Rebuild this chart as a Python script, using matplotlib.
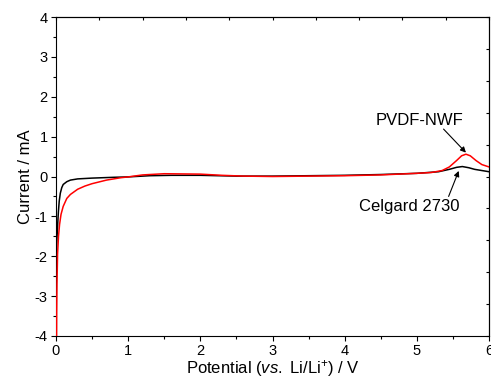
import matplotlib.pyplot as plt
import numpy as np

plt.rcParams['font.family'] = ['Liberation Sans', 'DejaVu Sans']
plt.rcParams['axes.unicode_minus'] = False
plt.rcParams['mathtext.fontset'] = 'custom'
plt.rcParams['mathtext.rm'] = 'Liberation Sans'
plt.rcParams['mathtext.it'] = 'Liberation Sans:italic'

# Celgard 2730 (black)
celgard_v = [0.002, 0.005, 0.01, 0.018, 0.025, 0.033, 0.045, 0.06, 0.08, 0.1, 0.15,
             0.2, 0.3, 0.5, 0.8, 1.0, 1.3, 1.6, 2.0, 2.5, 3.0, 3.5, 4.0, 4.5,
             5.0, 5.3, 5.45, 5.55, 5.63, 5.72, 5.8, 5.9, 6.0]
celgard_i = [-2.4, -2.0, -1.7, -1.4, -1.15, -0.9, -0.62, -0.42, -0.28, -0.2, -0.13,
             -0.09, -0.06, -0.04, -0.02, -0.01, 0.02, 0.03, 0.03, 0.01, 0.01, 0.02, 0.03, 0.05,
             0.08, 0.12, 0.18, 0.23, 0.25, 0.22, 0.18, 0.15, 0.12]

# PVDF-NWF (red)
pvdf_v = [0.008, 0.01, 0.014, 0.022, 0.035, 0.05, 0.07, 0.1, 0.15, 0.2, 0.3, 0.4,
          0.5, 0.7, 0.9, 1.0, 1.2, 1.5, 2.0, 2.3, 2.6, 3.0, 3.5, 4.0, 4.5, 5.0,
          5.2, 5.35, 5.45, 5.55, 5.62, 5.68, 5.74, 5.82, 5.9, 6.0]
pvdf_i = [-4.2, -3.4, -2.7, -1.95, -1.5, -1.2, -0.95, -0.75, -0.55, -0.45, -0.32, -0.24,
          -0.18, -0.09, -0.03, -0.01, 0.04, 0.07, 0.06, 0.03, 0.01, 0.0, 0.01, 0.02, 0.04, 0.08,
          0.1, 0.15, 0.24, 0.4, 0.52, 0.56, 0.52, 0.4, 0.3, 0.24]

fig = plt.figure(figsize=(4.91, 3.8), dpi=100)
ax = fig.add_axes([0.114, 0.116, 0.882, 0.839])

ax.plot(celgard_v, celgard_i, color='black', lw=1.1, zorder=3)
ax.plot(pvdf_v, pvdf_i, color='#ff0000', lw=1.1, zorder=3)

ax.set_xlim(0, 6)
ax.set_ylim(-4, 4)
ax.set_xticks(np.arange(0, 7, 1))
ax.set_xticks(np.arange(0.5, 6, 1), minor=True)
ax.set_yticks(np.arange(-4, 5, 1))
ax.set_yticks(np.arange(-3.5, 4, 1), minor=True)
ax.tick_params(which='major', direction='out', length=3.5, width=0.8, labelsize=10.5, pad=2.5)
ax.tick_params(which='minor', direction='out', length=2.2, width=0.8)

# top / right frame ticks (inward, 10 divisions)
top = ax.secondary_xaxis('top')
top.set_xticks(np.linspace(0, 6, 11))
top.tick_params(direction='in', length=2, labeltop=False)
right = ax.secondary_yaxis('right')
right.set_yticks(np.linspace(-4, 4, 11))
right.tick_params(direction='in', length=2, labelright=False)

ax.set_xlabel('Potential ($\\mathit{vs.}$ Li/Li$^{+}$) / V', fontsize=12, labelpad=0)
ax.set_ylabel('Current / mA', fontsize=12, labelpad=1)

arrow = dict(arrowstyle='-|>', color='black', lw=0.8,
             mutation_scale=8, shrinkA=0, shrinkB=0)
ax.text(5.03, 1.40, 'PVDF-NWF', ha='center', va='center', fontsize=12)
ax.annotate('', xy=(5.68, 0.60), xytext=(5.37, 1.19), arrowprops=arrow)
ax.text(4.89, -0.76, 'Celgard 2730', ha='center', va='center', fontsize=12)
ax.annotate('', xy=(5.58, 0.14), xytext=(5.44, -0.50), arrowprops=arrow)

fig.savefig('out.png', dpi=100)
